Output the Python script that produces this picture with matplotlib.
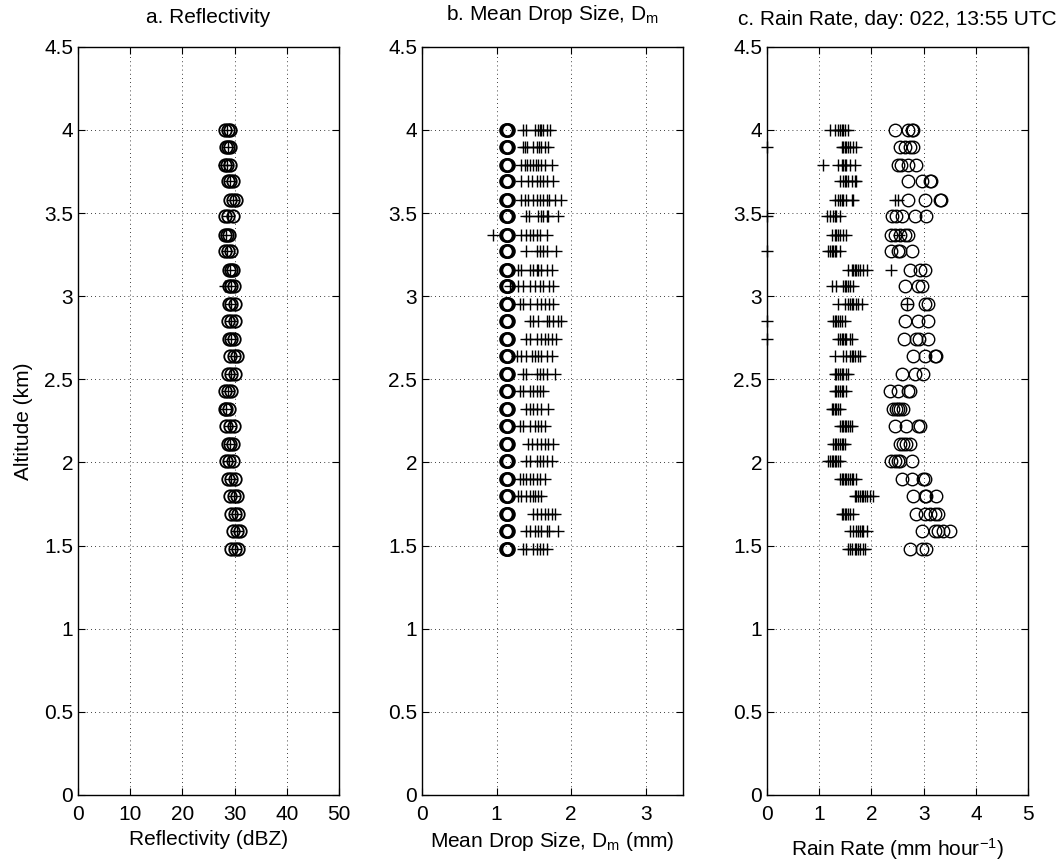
import numpy as np
import matplotlib.pyplot as plt

plt.rcParams['font.family'] = ['Liberation Sans', 'DejaVu Sans']
plt.rcParams['mathtext.fontset'] = 'custom'
plt.rcParams['mathtext.rm'] = 'Liberation Sans'
plt.rcParams['mathtext.it'] = 'Liberation Sans:italic'
plt.rcParams['font.size'] = 15

# altitude levels (km)
altitude = [4.00, 3.90, 3.79, 3.69, 3.58, 3.48, 3.37, 3.27, 3.16, 3.06, 2.95, 2.85, 2.74,
            2.64, 2.53, 2.43, 2.32, 2.22, 2.11, 2.01, 1.90, 1.80, 1.69, 1.59, 1.48]

# a. reflectivity (dBZ)
refl_circ = [
    [28.1, 28.8, 29.2], [28.3, 28.8, 29.1], [28.1, 28.6, 29.1], [28.8, 29.2, 29.7],
    [29.1, 29.7, 30.2], [28.1, 28.8, 29.7], [28.1, 28.6, 29.0], [28.1, 28.8, 29.4],
    [29.0, 29.4, 29.7], [29.0, 29.4, 29.8], [29.0, 29.4, 30.0], [28.8, 29.4, 30.0],
    [29.0, 29.4, 29.8], [29.2, 29.9, 30.5], [28.8, 29.4, 30.0], [28.1, 28.8, 29.4],
    [28.1, 28.4, 29.0], [28.4, 29.1, 29.8], [28.8, 29.1, 29.6], [28.4, 29.0, 29.6],
    [28.8, 29.4, 30.0], [29.2, 29.9, 30.5], [29.4, 30.0, 30.7], [29.7, 30.4, 31.0],
    [29.4, 30.0, 30.7]]
refl_plus = [
    [28.5], [28.8], [27.9, 28.6], [29.1], [29.6], [28.8], [28.3], [28.5],
    [29.2], [28.1, 29.4], [29.4], [29.4], [29.4], [29.8], [29.4], [28.8],
    [28.4], [29.1], [29.1], [29.0], [29.4], [29.8], [30.0], [30.4], [30.0]]

# b. mean drop size (mm)
dm_circ = [[1.12, 1.14, 1.16]] * 25
dm_plus = [
    [1.36, 1.40, 1.51, 1.56, 1.58, 1.60, 1.62, 1.67, 1.72],
    [1.35, 1.38, 1.41, 1.49, 1.54, 1.57, 1.60, 1.65, 1.69],
    [1.33, 1.38, 1.41, 1.45, 1.49, 1.53, 1.56, 1.59, 1.65, 1.74],
    [1.33, 1.42, 1.47, 1.54, 1.58, 1.62, 1.67, 1.76],
    [1.33, 1.38, 1.42, 1.49, 1.54, 1.58, 1.62, 1.67, 1.71, 1.78, 1.87],
    [1.40, 1.44, 1.56, 1.60, 1.62, 1.67, 1.69, 1.83],
    [0.95, 1.33, 1.40, 1.45, 1.49, 1.54, 1.58, 1.67],
    [1.40, 1.54, 1.58, 1.62, 1.67, 1.80],
    [1.29, 1.33, 1.45, 1.49, 1.54, 1.56, 1.60, 1.67, 1.74],
    [1.18, 1.29, 1.36, 1.45, 1.51, 1.58, 1.62, 1.71, 1.76],
    [1.31, 1.36, 1.45, 1.54, 1.60, 1.65, 1.71, 1.76],
    [1.45, 1.49, 1.56, 1.67, 1.71, 1.76, 1.83, 1.87],
    [1.40, 1.45, 1.54, 1.60, 1.65, 1.69, 1.74, 1.80],
    [1.27, 1.33, 1.40, 1.47, 1.51, 1.56, 1.60, 1.67, 1.74],
    [1.36, 1.40, 1.54, 1.58, 1.62, 1.67, 1.78],
    [1.31, 1.36, 1.45, 1.49, 1.54, 1.58, 1.62],
    [1.40, 1.45, 1.49, 1.54, 1.60, 1.69],
    [1.31, 1.36, 1.45, 1.51, 1.56, 1.60, 1.65],
    [1.42, 1.47, 1.54, 1.60, 1.65, 1.69, 1.76],
    [1.40, 1.45, 1.54, 1.58, 1.62, 1.67, 1.74],
    [1.31, 1.36, 1.40, 1.45, 1.49, 1.54, 1.58, 1.65],
    [1.29, 1.33, 1.40, 1.45, 1.49, 1.51, 1.56, 1.60],
    [1.49, 1.54, 1.60, 1.65, 1.69, 1.74, 1.78],
    [1.40, 1.45, 1.51, 1.56, 1.60, 1.67, 1.71, 1.83],
    [1.36, 1.40, 1.49, 1.54, 1.58, 1.62, 1.67]]

# c. rain rate (mm/h)
rr_plus = [
    [1.20, 1.30, 1.36, 1.40, 1.43, 1.46, 1.49, 1.56],
    [0.0, 1.43, 1.46, 1.49, 1.52, 1.56, 1.59, 1.65, 1.71],
    [1.08, 1.36, 1.43, 1.46, 1.49, 1.52, 1.59, 1.68],
    [1.40, 1.46, 1.49, 1.52, 1.56, 1.62, 1.68, 1.71],
    [1.30, 1.36, 1.40, 1.43, 1.46, 1.52, 1.62, 1.65, 2.45, 2.51],
    [0.0, 1.14, 1.20, 1.27, 1.30, 1.33, 1.40],
    [1.24, 1.30, 1.33, 1.36, 1.40, 1.46, 1.51, 2.52],
    [0.0, 1.17, 1.20, 1.24, 1.27, 1.30, 1.33, 1.40],
    [1.56, 1.62, 1.65, 1.68, 1.71, 1.75, 1.78, 1.84, 1.91, 2.38],
    [1.24, 1.33, 1.46, 1.49, 1.52, 1.56, 1.59, 1.65],
    [1.36, 1.49, 1.56, 1.59, 1.62, 1.65, 1.71, 1.75, 1.81, 2.69],
    [0.0, 1.27, 1.30, 1.33, 1.36, 1.40, 1.43, 1.49],
    [0.0, 1.36, 1.40, 1.43, 1.46, 1.49, 1.52, 1.59, 1.62],
    [1.30, 1.46, 1.52, 1.59, 1.62, 1.65, 1.68, 1.75, 1.78],
    [1.30, 1.33, 1.36, 1.40, 1.43, 1.46, 1.52, 1.56],
    [1.30, 1.33, 1.36, 1.40, 1.43, 1.46, 1.52],
    [1.24, 1.27, 1.30, 1.33, 1.36, 1.40],
    [1.40, 1.43, 1.46, 1.49, 1.52, 1.56, 1.59, 1.62],
    [1.27, 1.30, 1.33, 1.36, 1.40, 1.43, 1.46, 1.49],
    [1.17, 1.20, 1.24, 1.27, 1.30, 1.33, 1.36, 1.40],
    [1.40, 1.43, 1.46, 1.49, 1.52, 1.56, 1.59, 1.62, 1.65, 1.71],
    [1.68, 1.71, 1.75, 1.78, 1.81, 1.84, 1.87, 1.91, 1.97, 2.03],
    [1.43, 1.46, 1.49, 1.52, 1.56, 1.59, 1.65],
    [1.59, 1.65, 1.71, 1.75, 1.78, 1.81, 1.84, 1.91],
    [1.56, 1.59, 1.62, 1.68, 1.71, 1.75, 1.78, 1.84, 1.87]]
rr_circ = [
    [2.46, 2.70, 2.77, 2.80], [2.54, 2.64, 2.73, 2.79], [2.51, 2.56, 2.70, 2.86],
    [2.70, 2.96, 3.12, 3.15], [2.70, 3.02, 3.31, 3.34], [2.40, 2.48, 2.58, 2.83, 3.05],
    [2.38, 2.45, 2.54, 2.64, 2.70], [2.38, 2.51, 2.54, 2.77], [2.73, 2.93, 3.02],
    [2.64, 2.89, 2.96], [2.69, 3.02, 3.09], [2.64, 2.89, 3.09],
    [2.62, 2.85, 2.92, 3.09], [2.80, 3.02, 3.21, 3.24], [2.58, 2.83, 2.99],
    [2.35, 2.51, 2.70, 2.73], [2.42, 2.47, 2.51, 2.54, 2.61], [2.45, 2.67, 2.89, 2.93],
    [2.54, 2.61, 2.67, 2.73], [2.38, 2.45, 2.51, 2.54, 2.77], [2.58, 2.77, 2.99, 3.02],
    [2.80, 3.02, 3.05, 3.24], [2.86, 3.02, 3.12, 3.21, 3.28],
    [2.96, 3.21, 3.28, 3.37, 3.50], [2.73, 2.96, 3.05]]


def flat(values):
    xs, ys = [], []
    for alt, row in zip(altitude, values):
        xs += list(row)
        ys += [alt] * len(row)
    return xs, ys


def style(ax, xmax, xticks):
    ax.set_xlim(0, xmax)
    ax.set_ylim(0, 4.5)
    ax.set_xticks(xticks)
    ax.set_yticks(np.arange(0, 4.51, 0.5))
    ax.xaxis.set_major_formatter(plt.FormatStrFormatter('%g'))
    ax.yaxis.set_major_formatter(plt.FormatStrFormatter('%g'))
    ax.grid(True, color='black', linestyle=(0, (1, 4)), linewidth=0.6)
    ax.tick_params(direction='in', top=True, right=True, length=5, labelsize=15)
    ax.tick_params(axis='x', pad=7)
    for s in ax.spines.values():
        s.set_linewidth(1.0)


fig = plt.figure(figsize=(10.64, 8.63), dpi=100)
bottom, height, width = 0.079, 0.8667, 0.2453
ax_a = fig.add_axes([0.0733, bottom, width, height])
ax_b = fig.add_axes([0.3966, bottom, width, height])
ax_c = fig.add_axes([0.7209, bottom, width, height])

circ = dict(marker='o', linestyle='none', markerfacecolor='none', markeredgecolor='black',
            markersize=9, markeredgewidth=1.0)
plus = dict(marker='+', linestyle='none', color='black', markersize=8, markeredgewidth=1.0)

# a
x, y = flat(refl_circ)
ax_a.plot(x, y, **dict(circ, markeredgewidth=1.3))
x, y = flat(refl_plus)
ax_a.plot(x, y, **plus)
style(ax_a, 50, [0, 10, 20, 30, 40, 50])
ax_a.set_title('a. Reflectivity', fontsize=15, pad=17)
ax_a.set_xlabel('Reflectivity (dBZ)', fontsize=15, labelpad=5)
ax_a.set_ylabel('Altitude (km)', fontsize=15, labelpad=8)

# b
x, y = flat(dm_circ)
ax_b.plot(x, y, **dict(circ, markeredgewidth=1.5))
x, y = flat(dm_plus)
ax_b.plot(x, y, **plus)
style(ax_b, 3.5, [0, 1, 2, 3])
ax_b.set_title(r'b. Mean Drop Size, D$_\mathrm{m}$', fontsize=15, pad=19)
ax_b.set_xlabel(r'Mean Drop Size, D$_\mathrm{m}$ (mm)', fontsize=15, labelpad=5)

# c
x, y = flat(rr_circ)
ax_c.plot(x, y, **circ)
x, y = flat(rr_plus)
ax_c.plot(x, y, clip_on=False, **plus)
style(ax_c, 5, [0, 1, 2, 3, 4, 5])
ax_c.set_title('c. Rain Rate, day: 022, 13:55 UTC', fontsize=15, pad=16)
ax_c.set_xlabel(r'Rain Rate (mm hour$^{-1}$)', fontsize=15, labelpad=9)

fig.savefig('out.png', dpi=100)
